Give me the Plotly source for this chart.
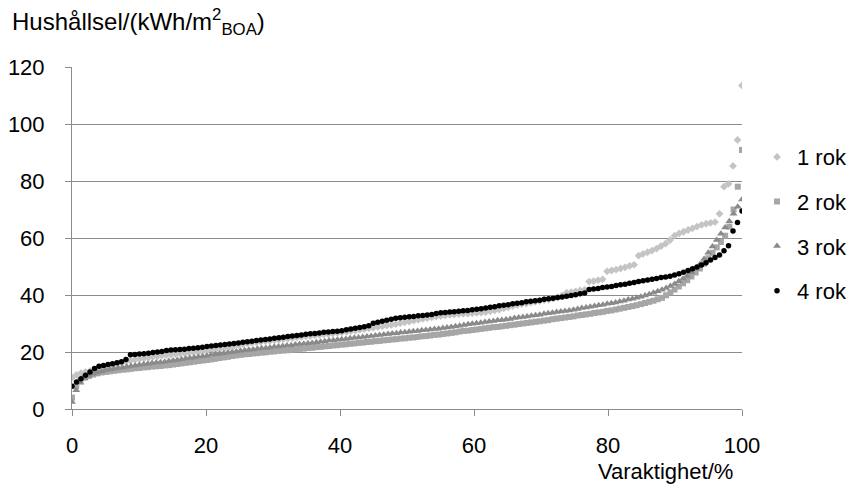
import plotly.graph_objects as go

series_names = ["1 rok", "2 rok", "3 rok", "4 rok"]

rok1 = [11.0,12.0,12.6,13.0,13.3,13.6,14.0,14.5,15.0,15.4,
        15.8,16.2,16.6,17.0,17.3,17.6,17.8,18.0,18.3,18.5,
        18.7,18.9,19.1,19.3,19.4,19.6,19.7,19.9,20.0,20.1,
        20.4,20.7,20.9,21.2,21.5,21.8,22.1,22.4,22.7,23.0,
        23.2,23.4,23.6,23.8,23.9,24.1,24.3,24.5,24.7,24.9,
        25.1,25.3,25.5,25.6,25.8,26.0,26.2,26.3,26.5,26.7,
        26.9,27.1,27.3,27.5,27.8,28.0,28.3,28.5,28.8,29.0,
        29.3,29.5,29.8,30.1,30.4,30.7,31.0,31.3,31.6,31.9,
        32.2,32.4,32.6,32.8,33.0,33.1,33.3,33.4,33.5,33.6,
        33.7,33.8,34.0,34.3,34.6,34.9,35.3,35.7,36.1,36.5,
        36.8,37.0,37.3,37.6,37.9,38.2,38.4,38.7,39.2,39.8,
        40.8,41.0,41.3,41.6,41.8,44.7,44.9,45.2,45.5,48.3,
        48.6,48.9,49.3,49.7,50.2,50.6,53.8,54.4,55.0,55.6,
        56.3,57.2,58.0,59.3,60.8,61.6,62.2,62.8,63.4,64.0,
        64.6,65.0,65.3,65.6,68.5,78.0,79.0,85.3,94.4,113.5]

rok2 = [4.0,8.0,10.0,11.0,11.6,12.1,12.5,12.8,13.0,13.2,
        13.4,13.6,13.8,13.9,14.1,14.3,14.4,14.6,14.7,14.9,
        15.0,15.1,15.3,15.4,15.6,15.8,16.0,16.2,16.4,16.6,
        16.8,17.0,17.2,17.4,17.6,17.9,18.1,18.3,18.6,18.8,
        19.0,19.2,19.3,19.5,19.6,19.8,19.9,20.1,20.2,20.4,
        20.5,20.6,20.8,20.9,21.1,21.2,21.4,21.5,21.7,21.8,
        22.0,22.1,22.3,22.4,22.6,22.7,22.9,23.0,23.2,23.3,
        23.5,23.6,23.8,23.9,24.1,24.2,24.4,24.5,24.7,24.8,
        25.0,25.1,25.3,25.5,25.6,25.8,26.0,26.1,26.3,26.5,
        26.7,26.9,27.2,27.4,27.5,27.7,27.9,28.1,28.3,28.5,
        28.7,28.8,29.0,29.2,29.4,29.6,29.8,30.0,30.2,30.4,
        30.6,30.8,31.0,31.2,31.5,31.7,31.9,32.1,32.3,32.5,
        32.8,33.0,33.2,33.4,33.7,33.9,34.1,34.4,34.6,34.9,
        35.2,35.5,35.8,36.1,36.4,36.8,37.2,37.6,38.0,38.5,
        39.0,39.9,40.9,41.9,43.0,44.1,45.2,46.5,47.9,49.3,
        51.0,52.9,54.8,56.7,58.6,60.8,64.0,70.0,78.0,90.9]

rok3 = [2.5,6.6,9.2,10.8,11.7,12.4,12.8,13.2,13.6,13.9,
        14.1,14.4,14.6,14.8,15.1,15.3,15.5,15.7,15.9,16.1,
        16.3,16.4,16.6,16.8,17.0,17.2,17.5,17.7,17.9,18.1,
        18.3,18.5,18.7,19.0,19.2,19.4,19.6,19.8,20.0,20.2,
        20.4,20.6,20.8,20.9,21.1,21.3,21.4,21.6,21.8,21.9,
        22.1,22.3,22.4,22.6,22.8,22.9,23.1,23.2,23.4,23.6,
        23.8,24.0,24.1,24.3,24.5,24.6,24.8,25.0,25.1,25.3,
        25.4,25.6,25.8,26.0,26.1,26.3,26.5,26.6,26.8,26.9,
        27.1,27.3,27.4,27.6,27.7,27.9,28.1,28.2,28.4,28.6,
        28.8,29.0,29.2,29.5,29.7,29.9,30.1,30.3,30.5,30.7,
        30.9,31.1,31.2,31.4,31.6,31.9,32.1,32.3,32.5,32.7,
        32.9,33.1,33.4,33.6,33.8,34.0,34.2,34.4,34.6,34.8,
        35.1,35.4,35.6,35.9,36.1,36.4,36.6,36.9,37.1,37.4,
        37.7,38.0,38.4,38.7,39.0,39.4,39.8,40.3,40.8,41.3,
        41.8,42.5,43.2,43.9,44.8,45.7,46.7,48.0,49.3,50.8,
        52.6,54.8,57.0,59.3,61.5,63.7,65.9,68.5,71.0,73.5]

rok4 = [8.0,9.5,10.6,11.8,13.0,14.2,15.0,15.3,15.6,15.9,
        16.2,16.6,17.4,19.0,19.1,19.3,19.4,19.6,19.8,20.0,
        20.2,20.5,20.7,20.8,20.9,21.0,21.2,21.3,21.5,21.7,
        21.9,22.1,22.3,22.5,22.6,22.8,23.0,23.2,23.4,23.6,
        23.8,24.0,24.2,24.4,24.6,24.8,25.0,25.2,25.4,25.6,
        25.8,26.0,26.2,26.4,26.5,26.7,26.9,27.0,27.2,27.3,
        27.5,27.8,28.1,28.3,28.6,28.9,29.2,30.1,30.4,30.8,
        31.1,31.5,31.8,32.0,32.2,32.4,32.5,32.7,32.8,33.0,
        33.2,33.5,33.8,33.9,34.0,34.1,34.3,34.5,34.6,34.8,
        35.0,35.2,35.4,35.7,35.9,36.2,36.4,36.6,36.9,37.1,
        37.3,37.6,37.8,38.0,38.2,38.5,38.7,38.9,39.1,39.3,
        39.6,39.8,40.1,40.4,40.7,41.9,42.1,42.3,42.6,42.8,
        43.0,43.3,43.6,43.8,44.1,44.4,44.7,45.0,45.3,45.5,
        45.8,46.1,46.3,46.6,47.0,47.5,48.0,48.6,49.2,49.8,
        50.5,51.3,52.3,53.2,54.0,55.5,57.3,62.5,65.4,69.5]

y_ticks = [0, 20, 40, 60, 80, 100, 120]
x_ticks = [0, 20, 40, 60, 80, 100]


def duration_x(values):
    n = len(values)
    return [100.0 * i / (n - 1) for i in range(n)]


styles = [
    dict(symbol="diamond", size=6, color="#c4c4c4"),
    dict(symbol="square", size=6, color="#a6a6a6"),
    dict(symbol="triangle-up", size=7, color="#8a8a8a"),
    dict(symbol="circle", size=5.5, color="#000000"),
]

fig = go.Figure()
for name, vals, st in zip(series_names, [rok1, rok2, rok3, rok4], styles):
    fig.add_trace(go.Scatter(
        x=duration_x(vals), y=vals, mode="markers", name=name,
        legendgroup=name,
        marker=dict(symbol=st["symbol"], size=st["size"], color=st["color"],
                    line=dict(width=0)),
        hoverinfo="skip",
    ))

FONT = "Liberation Sans, Arial, sans-serif"
axis_col = "#8c8c8c"

fig.update_layout(
    width=851, height=490,
    margin=dict(l=72, r=109, t=67, b=81, autoexpand=False),
    paper_bgcolor="white", plot_bgcolor="white",
    font=dict(family=FONT, size=22, color="#000000"),
    showlegend=True,
    legend=dict(
        x=1.0224, xanchor="left", y=0.798, yanchor="top",
        font=dict(family=FONT, size=22, color="#000000"),
        tracegroupgap=13, bgcolor="rgba(0,0,0,0)", borderwidth=0,
        itemsizing="trace",
    ),
    xaxis=dict(
        range=[0, 100], tickvals=x_ticks, ticktext=[str(v) for v in x_ticks],
        showgrid=False, zeroline=False, automargin=False,
        showline=True, linecolor=axis_col, linewidth=1,
        ticks="outside", ticklen=6, tickcolor=axis_col,
        tickfont=dict(family=FONT, size=22, color="#000000"),
        ticklabelstandoff=11,
    ),
    yaxis=dict(
        range=[0, 120], tickvals=y_ticks, ticktext=[str(v) for v in y_ticks],
        showgrid=True, gridcolor=axis_col, gridwidth=1, zeroline=False,
        automargin=False,
        showline=True, linecolor=axis_col, linewidth=1,
        ticks="outside", ticklen=6, tickcolor=axis_col,
        tickfont=dict(family=FONT, size=22, color="#000000"),
        ticklabelstandoff=16,
    ),
    annotations=[
        dict(text="Hushållsel/(kWh/m<sup>2</sup><sub>BOA</sub>)",
             xref="paper", yref="paper", x=-0.0925, y=1.1316,
             xanchor="left", yanchor="middle", showarrow=False,
             font=dict(family=FONT, size=24, color="#000000")),
        dict(text="Varaktighet/%",
             xref="paper", yref="paper", x=0.9896, y=-0.1813,
             xanchor="right", yanchor="middle", showarrow=False,
             font=dict(family=FONT, size=22, color="#000000")),
    ],
)

fig.write_html("out.html", config={"displayModeBar": False})
